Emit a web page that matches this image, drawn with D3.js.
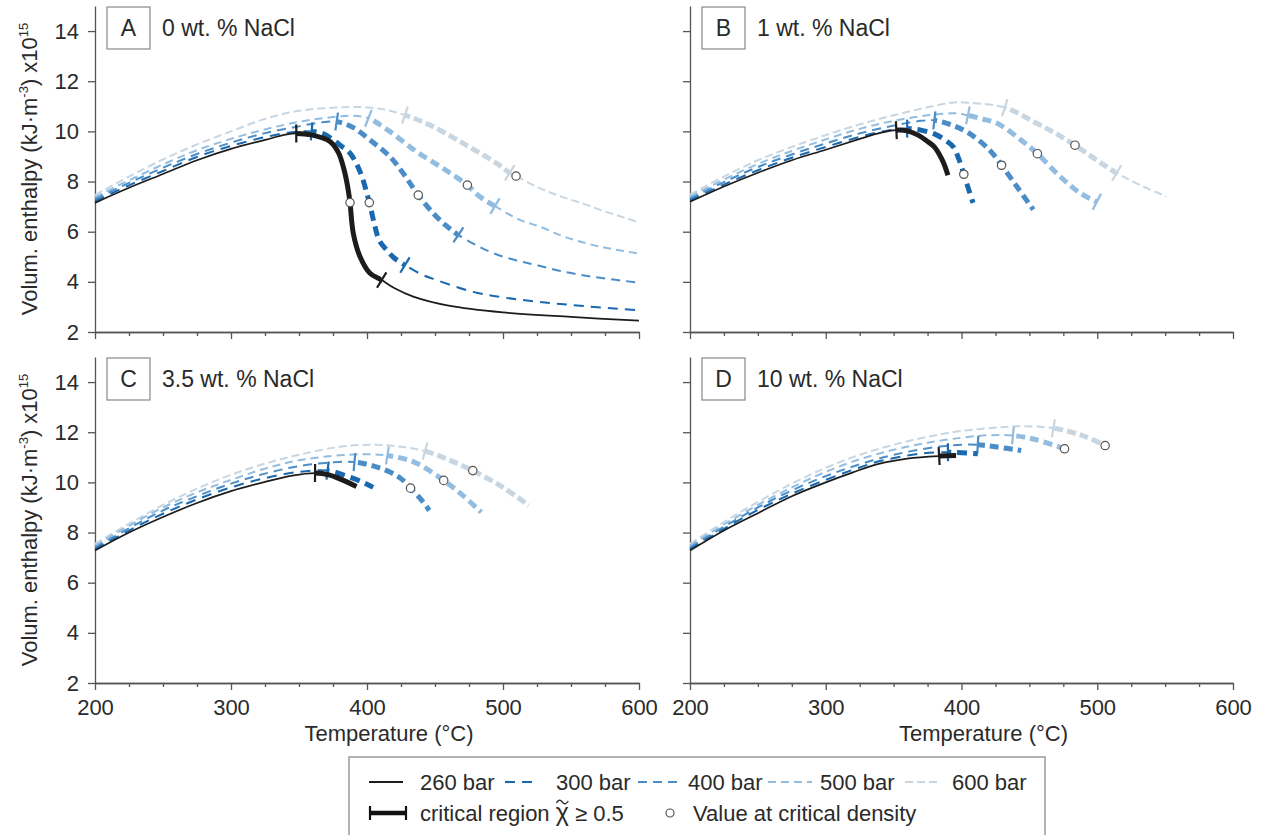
<!DOCTYPE html>
<html>
<head>
<meta charset="utf-8">
<script src="https://cdn.jsdelivr.net/npm/d3@7"></script>
<style>
  body { margin: 0; background: #fff; }
  text { font-family: "Liberation Sans", Arial, sans-serif; fill: #2a2a2a; }
</style>
</head>
<body>
<svg id="chart" width="1263" height="835"></svg>
<script>
// ---- data ----
var pressures = ["260 bar", "300 bar", "400 bar", "500 bar", "600 bar"];
var letters = ["A", "B", "C", "D"];
var salinity = ["0 wt. % NaCl", "1 wt. % NaCl", "3.5 wt. % NaCl", "10 wt. % NaCl"];
var tTicks = [200, 300, 400, 500, 600];
var vTicks = [2, 4, 6, 8, 10, 12, 14];

// panel A, 0 wt.% NaCl  [T (°C), volumetric enthalpy]
var a260 = [[200,7.15],[225,7.75],[250,8.3],[275,8.85],[300,9.3],[325,9.66],[340,9.87],[348,9.92],[360,9.85],[373,9.59],[379,9.15],[383,8.5],[385.6,7.85],[387.5,7.16],[389.9,5.94],[394.9,5.0],[402.2,4.34],[410.8,4.07],[420,3.75],[434,3.41],[460,3.05],[500,2.78],[550,2.6],[600,2.45]];
var a300 = [[200,7.22],[225,7.85],[250,8.42],[275,8.98],[300,9.42],[325,9.77],[345,9.97],[359.3,10.0],[368,9.9],[375.2,9.66],[381,9.42],[387.5,9.13],[394.9,8.39],[401.7,7.16],[405.9,6.2],[409,5.65],[414.4,5.27],[420,4.95],[427.9,4.67],[440,4.3],[451.2,4.07],[478,3.6],[500,3.38],[527,3.2],[560,3.03],[600,2.87]];
var a400 = [[200,7.3],[225,7.95],[250,8.55],[275,9.1],[300,9.55],[325,9.93],[350,10.2],[365,10.35],[377.7,10.39],[390,10.15],[402.2,9.66],[416.9,8.99],[427,8.3],[437.7,7.46],[448.8,6.73],[458,6.25],[467.2,5.87],[480,5.47],[493,5.14],[510,4.85],[524.7,4.67],[545,4.4],[570,4.17],[600,3.97]];
var a500 = [[200,7.38],[225,8.05],[250,8.68],[275,9.25],[300,9.7],[325,10.08],[350,10.38],[375,10.57],[390,10.62],[401,10.52],[416.9,9.99],[436.5,9.19],[456.1,8.52],[465,8.2],[473.8,7.86],[483.1,7.39],[494.1,7.02],[512.5,6.47],[527.2,6.2],[545,5.8],[570,5.42],[600,5.13]];
var a600 = [[200,7.46],[225,8.2],[250,8.88],[275,9.48],[300,10.0],[325,10.5],[350,10.82],[375,10.94],[395,10.97],[412,10.88],[427.9,10.65],[446.3,10.25],[470.8,9.52],[495.3,8.73],[505,8.35],[509.6,8.22],[527.2,7.73],[543,7.4],[560,7.1],[573,6.84],[590,6.55],[600,6.37]];
var critLoA = [348, 359.3, 377.7, 401, 427.9];
var critHiA = [410.8, 427.9, 467.2, 494.1, 505];
var hiTickA = [true, true, true, true, true];
var circTA = [387.5, 401.7, 437.7, 473.8, 509.6];
var circVA = [7.16, 7.16, 7.46, 7.86, 8.22];

// panel B, 1 wt.% NaCl
var b260 = [[200,7.19],[225,7.8],[250,8.35],[275,8.85],[300,9.27],[325,9.7],[340,9.94],[352,10.05],[360,10.02],[368,9.85],[375,9.6],[380,9.38],[384,9.05],[387,8.72],[390,8.25]];
var b300 = [[200,7.25],[225,7.88],[250,8.45],[275,8.95],[300,9.38],[325,9.78],[345,10.03],[360,10.11],[370,10.05],[380,9.9],[388,9.65],[394,9.38],[398,8.9],[401.7,8.29],[404.7,7.78],[408.5,7.15]];
var b400 = [[200,7.32],[225,7.98],[250,8.58],[275,9.08],[300,9.52],[325,9.92],[350,10.23],[370,10.42],[380,10.44],[393,10.25],[406,9.91],[420.8,9.25],[429.5,8.65],[441,7.78],[452.9,6.88]];
var b500 = [[200,7.4],[225,8.08],[250,8.7],[275,9.22],[300,9.68],[325,10.1],[350,10.42],[375,10.64],[395,10.72],[404.7,10.64],[415,10.5],[426.6,10.31],[444,9.65],[455.9,9.11],[473,8.18],[488,7.52],[499.7,7.19]];
var b600 = [[200,7.48],[225,8.2],[250,8.85],[275,9.38],[300,9.85],[325,10.28],[350,10.64],[375,10.96],[394,11.15],[410,11.12],[431.9,10.95],[455.9,10.31],[470,9.9],[483.6,9.45],[499.7,8.85],[514.3,8.34],[531.9,7.85],[550.9,7.41]];
var critLoB = [352, 360, 380, 404.7, 431.9];
var critHiB = [390, 408.5, 452.9, 499.7, 514.3];
var hiTickB = [false, false, false, true, true];
var circTB = [401.7, 429.5, 455.9, 483.6];
var circVB = [8.29, 8.65, 9.11, 9.45];

// panel C, 3.5 wt.% NaCl
var c260 = [[200,7.28],[225,8.0],[250,8.62],[275,9.18],[300,9.65],[325,10.02],[345,10.27],[361.8,10.37],[372,10.3],[380,10.14],[386,10.0],[392.3,9.84]];
var c300 = [[200,7.33],[225,8.08],[250,8.75],[275,9.32],[300,9.8],[325,10.17],[350,10.42],[371,10.47],[385,10.25],[395,10.05],[404.5,9.8]];
var c400 = [[200,7.4],[225,8.17],[250,8.88],[275,9.45],[300,9.95],[325,10.35],[350,10.65],[375,10.8],[390.8,10.81],[405,10.65],[416.8,10.41],[425,10.15],[432,9.77],[440,9.3],[445.8,8.88]];
var c500 = [[200,7.48],[225,8.27],[250,9.0],[275,9.6],[300,10.1],[325,10.55],[350,10.88],[380,11.08],[400,11.12],[415,11.07],[435,10.8],[456.4,10.08],[470,9.5],[484,8.81]];
var c600 = [[200,7.55],[225,8.35],[250,9.1],[275,9.75],[300,10.3],[325,10.75],[350,11.1],[380,11.42],[404.5,11.5],[425,11.42],[442.7,11.25],[460,10.9],[477.8,10.47],[500,9.8],[519,9.08]];
var critLoC = [361.8, 371, 390.8, 415, 442.7];
var critHiC = [392.3, 404.5, 445.8, 484, 519];
var hiTickC = [false, false, false, false, false];
var circTC = [432, 456.4, 477.8];
var circVC = [9.77, 10.08, 10.47];

// panel D, 10 wt.% NaCl
var d260 = [[200,7.28],[225,8.08],[251,8.8],[275,9.45],[300,10.0],[320,10.4],[339,10.74],[360,10.95],[383.5,11.05],[396,11.07]];
var d300 = [[200,7.33],[225,8.15],[250,8.9],[275,9.55],[300,10.1],[320,10.5],[340,10.85],[370,11.15],[390,11.2],[400,11.18],[412,11.14]];
var d400 = [[200,7.4],[225,8.23],[250,9.0],[275,9.68],[300,10.25],[325,10.72],[350,11.1],[380,11.4],[400,11.5],[412,11.5],[425,11.42],[444,11.27]];
var d500 = [[200,7.48],[225,8.32],[250,9.1],[275,9.8],[300,10.42],[325,10.92],[350,11.3],[375,11.58],[400,11.78],[420,11.88],[437.9,11.87],[455,11.7],[475.9,11.34]];
var d600 = [[200,7.55],[225,8.42],[250,9.22],[275,9.95],[300,10.58],[325,11.1],[350,11.5],[375,11.82],[400,12.05],[430,12.2],[444,12.24],[467.7,12.16],[490,11.85],[505.8,11.47]];
var critLoD = [383.5, 390, 412, 437.9, 467.7];
var critHiD = [396, 412, 444, 475.9, 505.8];
var hiTickD = [false, false, false, false, false];
var circTD = [475.9, 505.8];
var circVD = [11.34, 11.47];

// ---- styles ----
var colors = ["#1c1c1c", "#1a68ae", "#4a8dc7", "#92bde0", "#c8d6e1"];
var thinWidth = [1.7, 2, 2, 2, 2];
var thinDash = [null, "10,7", "9,6", "8,5", "8,4"];
var thickDash = [null, "10,6", "9,5", "9,5", "9,4"];
var axisColor = "#555";

var svg = d3.select("#chart");
var layout = [
    {x0: 95, x1: 639, yb: 332},
    {x0: 690, x1: 1233, yb: 332},
    {x0: 95, x1: 639, yb: 683},
    {x0: 690, x1: 1233, yb: 683}
];
var panels = [
    {series: [a260, a300, a400, a500, a600], lo: critLoA, hi: critHiA, hiTick: hiTickA, cT: circTA, cV: circVA},
    {series: [b260, b300, b400, b500, b600], lo: critLoB, hi: critHiB, hiTick: hiTickB, cT: circTB, cV: circVB},
    {series: [c260, c300, c400, c500, c600], lo: critLoC, hi: critHiC, hiTick: hiTickC, cT: circTC, cV: circVC},
    {series: [d260, d300, d400, d500, d600], lo: critLoD, hi: critHiD, hiTick: hiTickD, cT: circTD, cV: circVD}
];

function interp(data, t) {
    for (var i = 0; i < data.length - 1; i++) {
        if (t <= data[i + 1][0]) {
            var f = (t - data[i][0]) / (data[i + 1][0] - data[i][0]);
            return data[i][1] + f * (data[i + 1][1] - data[i][1]);
        }
    }
    return data[data.length - 1][1];
}

panels.forEach(function(p, i) {
    var L = layout[i];
    var x = d3.scaleLinear().domain([200, 600]).range([L.x0, L.x1]);
    var y = d3.scaleLinear().domain([2, 15]).range([L.yb, L.yb - 326]);
    var g = svg.append("g");

    // axes
    var minorV = d3.range(3, 14, 2);
    var minorT = d3.range(225, 600, 25).filter(function(d) { return d % 100 !== 0; });
    var ya = g.append("g").attr("transform", "translate(" + L.x0 + ",0)");
    ya.call(d3.axisLeft(y).tickValues(minorV).tickSize(4).tickSizeOuter(0).tickFormat(""));
    ya.call(d3.axisLeft(y).tickValues(vTicks).tickSize(7).tickSizeOuter(0).tickPadding(9)
        .tickFormat(i % 2 === 0 ? d3.format("d") : ""));
    var xa = g.append("g").attr("transform", "translate(0," + L.yb + ")");
    xa.append("g").call(d3.axisBottom(x).tickValues(minorT).tickSize(4).tickSizeOuter(0).tickFormat(""));
    xa.append("g").call(d3.axisBottom(x).tickValues(tTicks).tickSize(7).tickSizeOuter(0).tickPadding(9)
        .tickFormat(i >= 2 ? d3.format("d") : ""));
    g.selectAll(".domain, .tick line").attr("stroke", axisColor).attr("stroke-width", 1.3);
    g.selectAll(".tick text").attr("font-size", 22).attr("fill", "#2a2a2a")
        .style("font-family", "'Liberation Sans', Arial, sans-serif");

    // panel label
    g.append("rect").attr("x", L.x0 + 12).attr("y", L.yb - 325).attr("width", 43).attr("height", 42)
        .attr("fill", "#fff").attr("stroke", "#888").attr("stroke-width", 1.2);
    g.append("text").attr("x", L.x0 + 33.5).attr("y", L.yb - 296).attr("text-anchor", "middle")
        .attr("font-size", 23).text(letters[i]);
    g.append("text").attr("x", L.x0 + 67).attr("y", L.yb - 296).attr("font-size", 23).text(salinity[i]);

    // curves, light to dark so the 260 bar line is on top
    var line = d3.line().x(function(d) { return x(d[0]); }).y(function(d) { return y(d[1]); })
        .curve(d3.curveCatmullRom.alpha(0.5));
    for (var k = 4; k >= 0; k--) {
        var data = p.series[k];
        var lastT = data[data.length - 1][0];
        var xl = x(p.lo[k]), xh = x(p.hi[k]) + (p.hi[k] >= lastT ? 10 : 0);
        var idIn = "cin" + i + k, idOut = "cout" + i + k;
        var defs = g.append("defs");
        defs.append("clipPath").attr("id", idIn).append("rect")
            .attr("x", xl).attr("y", 0).attr("width", xh - xl).attr("height", 835);
        var co = defs.append("clipPath").attr("id", idOut);
        co.append("rect").attr("x", 0).attr("y", 0).attr("width", xl).attr("height", 835);
        co.append("rect").attr("x", xh).attr("y", 0).attr("width", Math.max(0, 1263 - xh)).attr("height", 835);

        g.append("path").datum(data).attr("d", line).attr("fill", "none")
            .attr("stroke", colors[k]).attr("stroke-width", thinWidth[k])
            .attr("stroke-dasharray", thinDash[k]).attr("clip-path", "url(#" + idOut + ")");
        g.append("path").datum(data).attr("d", line).attr("fill", "none")
            .attr("stroke", colors[k]).attr("stroke-width", 5)
            .attr("stroke-dasharray", thickDash[k]).attr("clip-path", "url(#" + idIn + ")");

        // cross ticks marking the critical region
        var ends = [p.lo[k]];
        if (p.hiTick[k]) ends.push(p.hi[k]);
        ends.forEach(function(t) {
            var t1 = Math.max(200, t - 2), t2 = Math.min(lastT, t + 2);
            var dx = x(t2) - x(t1), dy = y(interp(data, t2)) - y(interp(data, t1));
            var len = Math.sqrt(dx * dx + dy * dy);
            var nx = -dy / len * 9, ny = dx / len * 9;
            var cx = x(t), cy = y(interp(data, t));
            g.append("line").attr("x1", cx - nx).attr("y1", cy - ny).attr("x2", cx + nx).attr("y2", cy + ny)
                .attr("stroke", colors[k]).attr("stroke-width", 2.2);
        });
    }

    // values at critical density
    g.selectAll("circle.crit").data(d3.zip(p.cT, p.cV)).enter().append("circle")
        .attr("class", "crit")
        .attr("cx", function(d) { return x(d[0]); }).attr("cy", function(d) { return y(d[1]); })
        .attr("r", 4.2).attr("fill", "#fff").attr("stroke", "#555").attr("stroke-width", 1.2);

    // axis titles
    if (i % 2 === 0) {
        var yt = g.append("text").attr("text-anchor", "middle").attr("font-size", 22)
            .attr("transform", "translate(37," + ((L.yb + L.yb - 326) / 2) + ") rotate(-90)");
        yt.append("tspan").text("Volum. enthalpy (kJ·m");
        yt.append("tspan").attr("font-size", 13).attr("dy", -9).text("-3");
        yt.append("tspan").attr("dy", 9).text(") x10");
        yt.append("tspan").attr("font-size", 13).attr("dy", -9).text("15");
    }
    if (i >= 2) {
        g.append("text").attr("x", (L.x0 + L.x1) / 2 + 22).attr("y", L.yb + 58)
            .attr("text-anchor", "middle").attr("font-size", 22).text("Temperature (°C)");
    }
});

// ---- legend ----
var lg = svg.append("g");
lg.append("rect").attr("x", 349).attr("y", 757).attr("width", 696).attr("height", 90)
    .attr("fill", "#fff").attr("stroke", "#999").attr("stroke-width", 1.5);
var legLineX = [369, 505, 638, 768, 905];
var legLineW = [34, 28, 44, 44, 36];
var legTextX = [420, 556, 688, 820, 952];
pressures.forEach(function(name, k) {
    lg.append("line").attr("x1", legLineX[k]).attr("x2", legLineX[k] + legLineW[k])
        .attr("y1", 782).attr("y2", 782).attr("stroke", colors[k]).attr("stroke-width", 2.2)
        .attr("stroke-dasharray", thinDash[k]);
    lg.append("text").attr("x", legTextX[k]).attr("y", 790).attr("font-size", 22).text(name);
});
lg.append("line").attr("x1", 370).attr("x2", 406).attr("y1", 813).attr("y2", 813)
    .attr("stroke", "#111").attr("stroke-width", 4.5);
lg.append("line").attr("x1", 370).attr("x2", 370).attr("y1", 806).attr("y2", 820).attr("stroke", "#111").attr("stroke-width", 2.2);
lg.append("line").attr("x1", 406).attr("x2", 406).attr("y1", 806).attr("y2", 820).attr("stroke", "#111").attr("stroke-width", 2.2);
var crit = lg.append("text").attr("x", 420).attr("y", 821).attr("font-size", 22);
crit.append("tspan").text("critical region ");
crit.append("tspan").attr("font-size", 25).text("χ");
crit.append("tspan").text(" ≥ 0.5");
// tilde over chi, drawn as a small wave
var cn = crit.node();
var pre = cn.getSubStringLength(0, 16), chiW = cn.getSubStringLength(16, 1);
var tx = 420 + pre + chiW / 2 - 6;
lg.append("path").attr("d", "M" + tx + ",803 Q" + (tx + 3) + ",798 " + (tx + 6) + ",802 T" + (tx + 12) + ",801")
    .attr("fill", "none").attr("stroke", "#2a2a2a").attr("stroke-width", 1.3);
lg.append("circle").attr("cx", 670).attr("cy", 813).attr("r", 4).attr("fill", "#fff")
    .attr("stroke", "#555").attr("stroke-width", 1.2);
lg.append("text").attr("x", 693).attr("y", 821).attr("font-size", 22).text("Value at critical density");
</script>
</body>
</html>
